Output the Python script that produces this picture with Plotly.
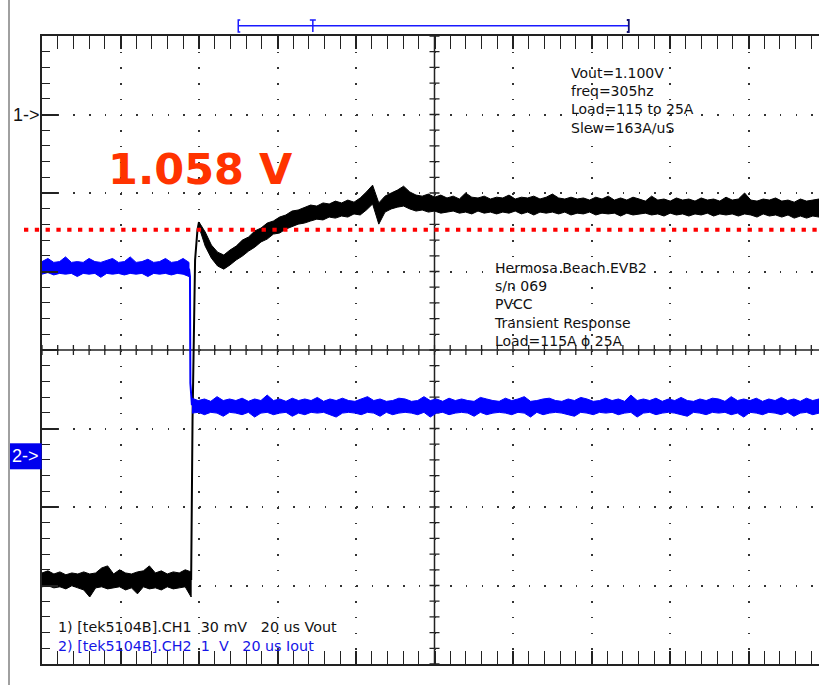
import numpy as np
import plotly.graph_objects as go

# ---------------- scope settings (from the on-screen legend) ----------------
US_PER_DIV = 20.0
CH1_MV_PER_DIV = 30.0
CH1_CENTER_MV = 1012.0      # Vout level at the centre graticule line
CH2_V_PER_DIV = 1.0
CH2_REF_DIV = -1.354        # position of the "2->" marker in divisions
CH1_MARK_MV = 1102.0        # level of the "1->" marker
CURSOR_MV = 1058.0          # red cursor "1.058 V"
REC_START_US, REC_END_US, TRIG_US = -50.0, 49.5, -31.0

# ---------------- CH1 : Vout (mV), noise envelope top / bottom ----------------
VOUT_PRE_T = (-100.0, -62.0)
VOUT_PRE_HI = [926.8, 927.6, 926.4, 927.2, 926.1, 926.8, 926.4, 927.2, 926.4, 926.8,
               928.7, 929.5, 926.4, 928.0, 926.8, 926.4, 927.2, 927.6, 929.5, 926.8,
               927.6, 926.4, 927.2, 926.8, 928.0, 927.2]
VOUT_PRE_LO = [921.5, 921.9, 921.1, 921.5, 920.7, 921.9, 921.1, 920.3, 917.6, 921.1,
               921.5, 920.7, 921.1, 921.5, 920.3, 921.1, 918.8, 921.5, 920.7, 921.1,
               920.3, 921.5, 920.7, 921.1, 921.5, 917.6]
VOUT_STEP_T = [-62.0, -61.65, -61.0, -60.4, -60.0]
VOUT_STEP_MV = [924.1, 985.3, 1046.4, 1057.8, 1060.9]
VOUT_POST_T = (-60.0, 97.96)
VOUT_POST_HI = [1060.9, 1057.1, 1052.1, 1049.4, 1048.3, 1050.2, 1051.7, 1054.0, 1055.2, 1057.5,
                1058.6, 1060.5, 1061.3, 1062.8, 1063.6, 1065.1, 1065.5, 1066.6, 1067.4, 1067.0,
                1068.2, 1067.8, 1068.9, 1068.2, 1069.3, 1068.5, 1070.1, 1072.4, 1075.0, 1068.2,
                1070.8, 1072.0, 1073.1, 1074.6, 1072.4, 1071.2, 1070.8, 1071.6, 1070.4, 1071.2,
                1070.1, 1070.8, 1069.7, 1072.0, 1070.4, 1070.1, 1070.8, 1069.7, 1070.4, 1070.1,
                1071.2, 1069.7, 1070.4, 1070.1, 1070.8, 1069.7, 1070.4, 1071.6, 1070.1, 1069.7,
                1070.4, 1069.7, 1070.1, 1069.3, 1070.4, 1069.7, 1070.8, 1069.3, 1070.1, 1069.3,
                1070.4, 1069.7, 1068.9, 1070.8, 1069.3, 1069.7, 1068.9, 1070.1, 1069.3, 1069.7,
                1068.9, 1070.1, 1069.3, 1069.7, 1068.9, 1070.4, 1069.3, 1069.7, 1072.0, 1069.3,
                1068.9, 1069.7, 1069.3, 1070.1, 1068.9, 1069.3, 1068.5, 1069.7, 1068.9, 1069.3,
                1069.7]
VOUT_POST_LO = [1059.0, 1051.7, 1047.1, 1044.1, 1042.9, 1044.5, 1046.4, 1047.9, 1049.8, 1051.3,
                1053.3, 1054.4, 1056.3, 1056.7, 1058.2, 1059.0, 1060.1, 1060.5, 1061.3, 1062.0,
                1061.7, 1062.8, 1062.4, 1063.2, 1062.8, 1064.0, 1063.6, 1065.5, 1067.8, 1060.1,
                1064.7, 1065.9, 1066.6, 1067.0, 1065.9, 1065.1, 1065.5, 1064.7, 1065.1, 1064.3,
                1064.7, 1065.1, 1064.3, 1064.7, 1064.0, 1065.1, 1064.3, 1064.7, 1064.0, 1064.7,
                1064.3, 1065.1, 1064.0, 1064.7, 1063.6, 1064.7, 1064.3, 1064.7, 1064.0, 1064.7,
                1063.6, 1064.3, 1064.0, 1064.7, 1063.6, 1064.3, 1064.0, 1064.3, 1063.2, 1064.3,
                1063.6, 1064.0, 1064.3, 1063.6, 1064.0, 1063.2, 1064.3, 1063.6, 1064.0, 1063.2,
                1064.0, 1063.6, 1064.3, 1063.2, 1064.0, 1063.6, 1064.0, 1063.2, 1064.0, 1063.6,
                1062.8, 1064.0, 1063.2, 1063.6, 1062.8, 1063.6, 1062.4, 1063.2, 1062.4, 1063.2,
                1062.8]

# ---------------- CH2 : Iout (V on 1 V/div), noise envelope ----------------
IOUT_PRE_T = (-100.0, -62.55)
IOUT_PRE_HI = [2.48, 2.52, 2.47, 2.48, 2.54, 2.47, 2.48, 2.47, 2.52, 2.48,
               2.47, 2.50, 2.52, 2.47, 2.48, 2.54, 2.47, 2.48, 2.51, 2.47,
               2.48, 2.52, 2.47, 2.48, 2.52, 2.47]
IOUT_PRE_LO = [2.32, 2.34, 2.31, 2.33, 2.32, 2.33, 2.29, 2.33, 2.32, 2.33,
               2.28, 2.33, 2.32, 2.33, 2.31, 2.33, 2.32, 2.33, 2.29, 2.33,
               2.32, 2.33, 2.31, 2.33, 2.32, 2.29]
IOUT_STEP_T = [-62.55, -62.3, -62.2, -62.0, -61.8]
IOUT_STEP_V = [2.39, 2.29, 0.93, 0.76, 0.65]
IOUT_POST_T = (-61.8, 97.96)
IOUT_POST_HI = [0.74, 0.71, 0.73, 0.70, 0.76, 0.71, 0.73, 0.71, 0.74, 0.70,
                0.73, 0.71, 0.78, 0.71, 0.73, 0.70, 0.74, 0.71, 0.73, 0.71,
                0.75, 0.70, 0.73, 0.71, 0.74, 0.71, 0.70, 0.73, 0.76, 0.71,
                0.73, 0.70, 0.71, 0.74, 0.73, 0.70, 0.71, 0.76, 0.71, 0.73,
                0.70, 0.74, 0.71, 0.73, 0.71, 0.70, 0.75, 0.73, 0.71, 0.70,
                0.74, 0.71, 0.73, 0.76, 0.70, 0.71, 0.73, 0.74, 0.71, 0.70,
                0.73, 0.71, 0.75, 0.73, 0.70, 0.71, 0.74, 0.71, 0.73, 0.70,
                0.78, 0.71, 0.73, 0.71, 0.74, 0.70, 0.73, 0.71, 0.75, 0.71,
                0.70, 0.73, 0.71, 0.74, 0.73, 0.70, 0.76, 0.71, 0.73, 0.71,
                0.74, 0.70, 0.73, 0.71, 0.75, 0.71, 0.73, 0.70, 0.74, 0.71,
                0.73]
IOUT_POST_LO = [0.55, 0.56, 0.53, 0.56, 0.55, 0.51, 0.56, 0.55, 0.53, 0.56,
                0.50, 0.55, 0.56, 0.53, 0.55, 0.56, 0.51, 0.55, 0.53, 0.56,
                0.55, 0.56, 0.53, 0.50, 0.55, 0.56, 0.55, 0.53, 0.56, 0.55,
                0.51, 0.56, 0.53, 0.55, 0.56, 0.55, 0.53, 0.56, 0.50, 0.55,
                0.56, 0.53, 0.55, 0.56, 0.55, 0.51, 0.56, 0.53, 0.55, 0.56,
                0.55, 0.53, 0.56, 0.55, 0.50, 0.56, 0.53, 0.55, 0.56, 0.55,
                0.53, 0.51, 0.56, 0.55, 0.53, 0.56, 0.55, 0.56, 0.53, 0.55,
                0.56, 0.50, 0.55, 0.56, 0.53, 0.55, 0.56, 0.55, 0.53, 0.51,
                0.56, 0.55, 0.53, 0.56, 0.55, 0.56, 0.53, 0.55, 0.50, 0.56,
                0.55, 0.53, 0.56, 0.55, 0.53, 0.56, 0.51, 0.55, 0.56, 0.53,
                0.55]

# ---------------- text ----------------
INFO_1 = ["Vout=1.100V", "freq=305hz", "Load=115 to 25A", "Slew=163A/uS"]
INFO_2 = ["Hermosa Beach EVB2", "s/n 069", "PVCC", "Transient Response", "Load=115A \u03d5 25A"]
NB = "\u00a0"
LEGEND_1 = "1) [tek5104B].CH1" + NB * 2 + "30 mV" + NB * 3 + "20 us Vout"
LEGEND_2 = "2) [tek5104B].CH2" + NB * 2 + "1" + NB * 2 + "V" + NB * 3 + "20 us Iout"
CURSOR_LABEL = "1.058 V"

# ---------------- geometry ----------------
W, H = 819, 685
PL, PT, PW, PH = 42, 36, 777, 628
X_RANGE = [-100.0, 97.96]
Y1_RANGE = [CH1_CENTER_MV - 4 * CH1_MV_PER_DIV, CH1_CENTER_MV + 4 * CH1_MV_PER_DIV]
Y2_RANGE = [(-4 - CH2_REF_DIV) * CH2_V_PER_DIV, (4 - CH2_REF_DIV) * CH2_V_PER_DIV]


def px(xp):
    return (xp - PL) / PW


def py(yp):
    return (PT + PH - yp) / PH


def y2_paper(v):
    return (v - Y2_RANGE[0]) / (Y2_RANGE[1] - Y2_RANGE[0])


def band(span, hi, lo, color, yaxis):
    t = np.linspace(span[0], span[1], len(hi))
    x = list(t) + list(t[::-1])
    y = list(hi) + list(lo[::-1])
    return go.Scatter(x=x, y=y, mode="lines", fill="toself", fillcolor=color,
                      line=dict(color=color, width=1), yaxis=yaxis,
                      hoverinfo="skip", showlegend=False)


BLACK = "#000000"
BLUE = "#0000FF"

fig = go.Figure()
fig.add_trace(band(VOUT_PRE_T, VOUT_PRE_HI, VOUT_PRE_LO, BLACK, "y"))
fig.add_trace(go.Scatter(x=VOUT_STEP_T, y=VOUT_STEP_MV, mode="lines",
                         line=dict(color=BLACK, width=2), hoverinfo="skip", showlegend=False))
fig.add_trace(band(VOUT_POST_T, VOUT_POST_HI, VOUT_POST_LO, BLACK, "y"))
fig.add_trace(band(IOUT_PRE_T, IOUT_PRE_HI, IOUT_PRE_LO, BLUE, "y2"))
fig.add_trace(go.Scatter(x=IOUT_STEP_T, y=IOUT_STEP_V, mode="lines", yaxis="y2",
                         line=dict(color=BLUE, width=2), hoverinfo="skip", showlegend=False))
fig.add_trace(band(IOUT_POST_T, IOUT_POST_HI, IOUT_POST_LO, BLUE, "y2"))

# ---------------- graticule extras ----------------
px_per_us = PW / (X_RANGE[1] - X_RANGE[0])
px_per_mv = PH / (Y1_RANGE[1] - Y1_RANGE[0])
hx = 5 / px_per_us
hy = 5 / px_per_mv
segs = []
minor_x = US_PER_DIV / 5
minor_y = CH1_MV_PER_DIV / 5
t = X_RANGE[0]
while t < X_RANGE[1]:
    segs.append(f"M{t:.3f},{CH1_CENTER_MV - hy:.3f}L{t:.3f},{CH1_CENTER_MV + hy:.3f}")
    t += minor_x
v = Y1_RANGE[0]
while v <= Y1_RANGE[1] + 1e-6:
    segs.append(f"M{-hx:.3f},{v:.3f}L{hx:.3f},{v:.3f}")
    v += minor_y

GRAT = "#222222"
shapes = [
    dict(type="line", xref="paper", yref="paper", x0=px(9), x1=px(9), y0=py(685), y1=py(0),
         line=dict(color="#a0a0a0", width=2)),
    dict(type="line", xref="x", yref="paper", x0=0, x1=0, y0=0, y1=1,
         line=dict(color=GRAT, width=1.5), layer="below"),
    dict(type="line", xref="paper", yref="y", x0=0, x1=1, y0=CH1_CENTER_MV, y1=CH1_CENTER_MV,
         line=dict(color=GRAT, width=1.5), layer="below"),
    dict(type="path", xref="x", yref="y", path="".join(segs),
         line=dict(color=GRAT, width=1.3), layer="below"),
    dict(type="line", xref="paper", yref="y", x0=px(24), x1=1, y0=CURSOR_MV, y1=CURSOR_MV,
         line=dict(color="#FF0000", width=4, dash="4.3px,6.5px")),
]
# record bracket with trigger marker above the graticule
yb, yt, ym = py(32), py(20), py(25.7)
s2 = 2 / px_per_us
BR = "#1a1aff"
shapes += [
    dict(type="line", xref="x", yref="paper", x0=REC_START_US, x1=REC_END_US, y0=ym, y1=ym,
         line=dict(color=BR, width=1.5)),
    dict(type="path", xref="x", yref="paper",
         path=f"M{REC_START_US + s2},{yt}L{REC_START_US},{yt}L{REC_START_US},{yb}L{REC_START_US + s2},{yb}",
         line=dict(color=BR, width=1.5)),
    dict(type="path", xref="x", yref="paper",
         path=f"M{REC_END_US - s2},{yt}L{REC_END_US},{yt}L{REC_END_US},{yb}L{REC_END_US - s2},{yb}",
         line=dict(color="#101070", width=1.8)),
    dict(type="path", xref="x", yref="paper",
         path=f"M{TRIG_US - 1.5 * s2},{yt}L{TRIG_US + 1.5 * s2},{yt}M{TRIG_US},{yt}L{TRIG_US},{yb}",
         line=dict(color=BR, width=1.5)),
]
# CH2 marker box
half = 13 / PH
shapes.append(dict(type="rect", xref="paper", yref="paper", x0=px(10), x1=px(41.7),
                   y0=y2_paper(0) - half, y1=y2_paper(0) + half,
                   fillcolor="#0000EE", line=dict(width=0)))

TXT = "DejaVu Sans"
annotations = [
    dict(text=CURSOR_LABEL, xref="paper", yref="paper", x=px(200), y=py(169.2),
         xanchor="center", yanchor="middle", showarrow=False,
         font=dict(family="DejaVu Sans", size=43, color="#FF3300", weight="bold")),
    dict(text="1->", xref="paper", yref="y", x=px(26.4), y=CH1_MARK_MV,
         xanchor="center", yanchor="middle", showarrow=False,
         font=dict(family="Liberation Sans", size=18, color="#111111")),
    dict(text="2->", xref="paper", yref="paper", x=px(25.8), y=y2_paper(0),
         xanchor="center", yanchor="middle", showarrow=False,
         font=dict(family="Liberation Sans", size=18, color="#FFFFFF")),
    # info block 1 (4 lines, centres ~72.8 .. 127 px)
    dict(text="<br>".join(INFO_1), xref="paper", yref="paper", x=px(569), y=py(100.1),
         xanchor="left", yanchor="middle", align="left", showarrow=False,
         font=dict(family=TXT, size=14, color="#111111")),
    # info block 2 (5 lines, centres ~268 .. 341 px)
    dict(text="<br>".join(INFO_2), xref="paper", yref="paper", x=px(492), y=py(304.7),
         xanchor="left", yanchor="middle", align="left", showarrow=False,
         font=dict(family=TXT, size=14, color="#111111")),
    # channel legend
    dict(text=LEGEND_1 + "<br>" + '<span style="color:#1414E6">' + LEGEND_2 + "</span>",
         xref="paper", yref="paper", x=px(56), y=py(636),
         xanchor="left", yanchor="middle", align="left", showarrow=False,
         font=dict(family=TXT, size=14.3, color="#111111")),
]

grid_common = dict(showgrid=True, gridcolor="#333333", gridwidth=1.5, griddash="1.5px,14.2px",
                   ticks="inside", tickwidth=1.5, tickcolor=GRAT, showline=True,
                   linecolor=GRAT, linewidth=1.5, zeroline=False, showticklabels=False,
                   fixedrange=True)

fig.update_layout(
    width=W, height=H,
    margin=dict(l=PL, r=W - PL - PW, t=PT, b=H - PT - PH, autoexpand=False),
    paper_bgcolor="white", plot_bgcolor="white",
    showlegend=False,
    xaxis=dict(range=X_RANGE, dtick=US_PER_DIV, tick0=0, ticklen=13, mirror="allticks",
               minor=dict(dtick=minor_x, tick0=0, ticks="inside", ticklen=8, tickwidth=1.2,
                          tickcolor=GRAT, showgrid=False),
               **grid_common),
    yaxis=dict(range=Y1_RANGE, dtick=CH1_MV_PER_DIV, tick0=CH1_CENTER_MV, ticklen=16, mirror=False,
               minor=dict(dtick=minor_y, tick0=CH1_CENTER_MV, ticks="inside", ticklen=8,
                          tickwidth=1.2, tickcolor=GRAT, showgrid=False),
               **grid_common),
    yaxis2=dict(range=Y2_RANGE, overlaying="y", visible=False, fixedrange=True),
    shapes=shapes,
    annotations=annotations,
)

fig.write_html("out.html")
